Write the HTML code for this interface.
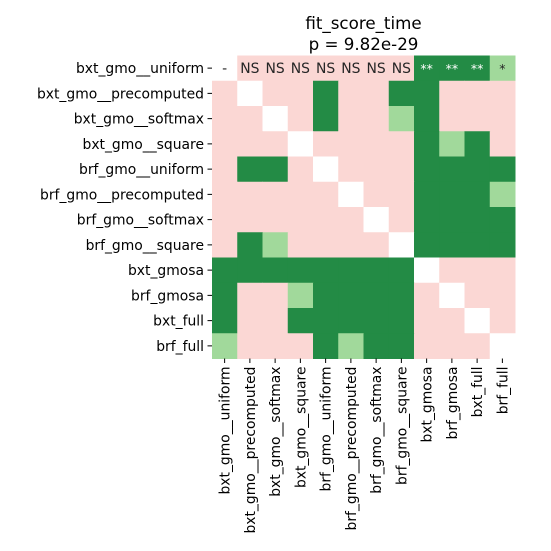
<!DOCTYPE html>
<html><head><meta charset="utf-8"><style>
body{margin:0;background:#fff;}
svg{display:block;font-family:"DejaVu Sans","Liberation Sans",sans-serif;}
</style></head><body>
<svg id="chart" width="551" height="551">
<text x="363.5" y="29" font-size="16.7" text-anchor="middle">fit_score_time</text>
<text x="363.5" y="50" font-size="16.7" text-anchor="middle">p = 9.82e-29</text>
<g id="cells"></g><g id="labels"></g>
</svg>
<script>
const categories=["bxt_gmo__uniform","bxt_gmo__precomputed","bxt_gmo__softmax","bxt_gmo__square","brf_gmo__uniform","brf_gmo__precomputed","brf_gmo__softmax","brf_gmo__square","bxt_gmosa","brf_gmosa","bxt_full","brf_full"];
// 0 = NS, 1 = *, 2 = **, -1 = diagonal
const significance=[
[-1,0,0,0,0,0,0,0,2,2,2,1],
[0,-1,0,0,2,0,0,2,2,0,0,0],
[0,0,-1,0,2,0,0,1,2,0,0,0],
[0,0,0,-1,0,0,0,0,2,1,2,0],
[0,2,2,0,-1,0,0,0,2,2,2,2],
[0,0,0,0,0,-1,0,0,2,2,2,1],
[0,0,0,0,0,0,-1,0,2,2,2,2],
[0,2,1,0,0,0,0,-1,2,2,2,2],
[2,2,2,2,2,2,2,2,-1,0,0,0],
[2,0,0,1,2,2,2,2,0,-1,0,0],
[2,0,0,2,2,2,2,2,0,0,-1,0],
[1,0,0,0,2,1,2,2,0,0,0,-1]];
const firstRowText=["-","NS","NS","NS","NS","NS","NS","NS","**","**","**","*"];
const colors={"-1":"#ffffff","0":"#fbd7d4","1":"#a1d99b","2":"#238b45"};
const X0=212,Y0=55.5,CW=25.25,CH=25.25;
const xs=i=>X0+i*CW, ys=i=>Y0+i*CH;
const NS="http://www.w3.org/2000/svg";
const cells=document.getElementById('cells'),labels=document.getElementById('labels');
significance.forEach((row,r)=>row.forEach((v,c)=>{
 const rc=document.createElementNS(NS,'rect');
 rc.setAttribute('x',xs(c));rc.setAttribute('y',ys(r));
 rc.setAttribute('width',CW+0.5);rc.setAttribute('height',CH+0.5);
 rc.setAttribute('fill',colors[v]);
 
 
 cells.appendChild(rc);
}));
firstRowText.forEach((t,c)=>{
 const tx=document.createElementNS(NS,'text');
 tx.setAttribute('x',xs(c)+CW/2);tx.setAttribute('y',ys(0)+CH/2+4.8);
 tx.setAttribute('font-size',c>=8?'12.5':'13.9');tx.setAttribute('text-anchor','middle');
 tx.setAttribute('fill',significance[0][c]===2?'#ffffff':'#262626');
 tx.textContent=t;
 
 
 cells.appendChild(tx);
});
categories.forEach((n,i)=>{
 const cy=ys(i)+CH/2, cx=xs(i)+CW/2;
 const tk=document.createElementNS(NS,'line');
 tk.setAttribute('x1',X0-4.5);tk.setAttribute('x2',X0);tk.setAttribute('y1',cy);tk.setAttribute('y2',cy);tk.setAttribute('stroke','#000');
 
 
 labels.appendChild(tk);
 const ty=document.createElementNS(NS,'text');
 ty.setAttribute('x',X0-8);ty.setAttribute('y',cy+5);ty.setAttribute('font-size','13.9');ty.setAttribute('text-anchor','end');
 ty.textContent=n;
 
 
 labels.appendChild(ty);
 const bot=ys(12);
 const tx2=document.createElementNS(NS,'line');
 tx2.setAttribute('x1',cx);tx2.setAttribute('x2',cx);tx2.setAttribute('y1',bot);tx2.setAttribute('y2',bot+4.5);tx2.setAttribute('stroke','#000');
 
 
 labels.appendChild(tx2);
 const tl=document.createElementNS(NS,'text');
 tl.setAttribute('transform','translate('+(cx+5)+','+(bot+8)+') rotate(-90)');
 tl.setAttribute('font-size','13.9');tl.setAttribute('text-anchor','end');
 tl.textContent=n;
 
 
 labels.appendChild(tl);
});
</script>
</body></html>
